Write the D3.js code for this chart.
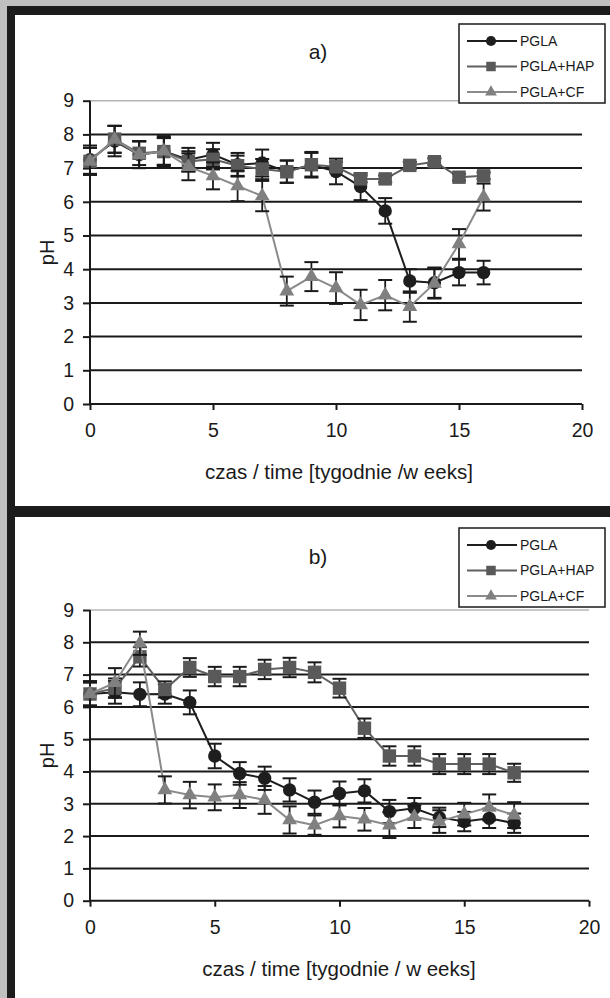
<!DOCTYPE html>
<html>
<head>
<meta charset="utf-8">
<script src="https://cdn.jsdelivr.net/npm/d3@7/dist/d3.min.js"></script>
<style>
  body { margin: 0; background: #c0c0c0; }
  svg { display: block; font-family: "Liberation Sans", Arial, sans-serif; }
</style>
</head>
<body>
<svg id="chart" width="610" height="998"></svg>
<script>
// series names + look
let seriesNames = ["PGLA", "PGLA+HAP", "PGLA+CF"];
let lineColors = ["#1e1e1e", "#606060", "#8a8a8a"];
let markFill = ["#1e1e1e", "#595959", "#808080"];
let markShape = [d3.symbolCircle, d3.symbolSquare, d3.symbolTriangle];

let yTicks = [0, 1, 2, 3, 4, 5, 6, 7, 8, 9];
let xTicks = [0, 5, 10, 15, 20];

// panel a)
let weeksA = [0, 1, 2, 3, 4, 5, 6, 7, 8, 9, 10, 11, 12, 13, 14, 15, 16];
let pglaA = [7.25, 7.8, 7.4, 7.5, 7.25, 7.4, 7.1, 7.15, 6.9, 7.1, 6.9, 6.45, 5.73, 3.65, 3.6, 3.9, 3.9];
let hapA = [7.2, 7.86, 7.44, 7.49, 7.2, 7.26, 7.07, 6.97, 6.89, 7.1, 7.04, 6.68, 6.68, 7.08, 7.19, 6.73, 6.77];
let cfA = [7.2, 7.85, 7.4, 7.5, 7.04, 6.77, 6.47, 6.17, 3.35, 3.78, 3.44, 2.94, 3.23, 2.89, 3.58, 4.75, 6.14];
let pglaErrA = [0.42, 0.45, 0.4, 0.45, 0.35, 0.35, 0.35, 0.4, 0.33, 0.38, 0.38, 0.4, 0.38, 0.35, 0.45, 0.38, 0.35];
let hapErrA = [0.4, 0.4, 0.35, 0.4, 0.3, 0.3, 0.3, 0.3, 0.33, 0.35, 0.15, 0.1, 0.1, 0.1, 0.1, 0.1, 0.1];
let cfErrA = [0.4, 0.4, 0.4, 0.4, 0.4, 0.4, 0.45, 0.45, 0.43, 0.43, 0.47, 0.45, 0.45, 0.45, 0.45, 0.44, 0.4];

// panel b)
let weeksB = [0, 1, 2, 3, 4, 5, 6, 7, 8, 9, 10, 11, 12, 13, 14, 15, 16, 17];
let pglaB = [6.4, 6.45, 6.39, 6.4, 6.14, 4.48, 3.94, 3.79, 3.43, 3.05, 3.32, 3.4, 2.76, 2.86, 2.58, 2.45, 2.55, 2.4];
let hapB = [6.4, 6.58, 7.55, 6.54, 7.22, 6.94, 6.94, 7.16, 7.22, 7.07, 6.58, 5.34, 4.48, 4.48, 4.23, 4.23, 4.23, 3.96];
let cfB = [6.4, 6.75, 7.97, 3.43, 3.27, 3.2, 3.27, 3.12, 2.5, 2.34, 2.62, 2.52, 2.34, 2.6, 2.45, 2.68, 2.89, 2.65];
let pglaErrB = [0.38, 0.35, 0.37, 0.3, 0.37, 0.38, 0.35, 0.36, 0.36, 0.36, 0.37, 0.36, 0.36, 0.32, 0.3, 0.3, 0.3, 0.3];
let hapErrB = [0.35, 0.3, 0.3, 0.25, 0.29, 0.3, 0.3, 0.3, 0.3, 0.31, 0.29, 0.3, 0.3, 0.3, 0.31, 0.31, 0.31, 0.28];
let cfErrB = [0.4, 0.45, 0.36, 0.42, 0.41, 0.4, 0.4, 0.43, 0.42, 0.3, 0.35, 0.35, 0.4, 0.35, 0.35, 0.35, 0.4, 0.4];


let svg = d3.select("#chart");

// gray page + dark frame + white panels
svg.append("rect").attr("width", 610).attr("height", 998).attr("fill", "#c0c0c0");
svg.append("rect").attr("x", 7).attr("y", 6).attr("width", 603).attr("height", 992).attr("fill", "#1c1c1c");
svg.append("rect").attr("x", 15).attr("y", 15).attr("width", 595).attr("height", 491).attr("fill", "#fff");
svg.append("rect").attr("x", 15).attr("y", 517).attr("width", 595).attr("height", 481).attr("fill", "#fff");


function drawPanel(p) {
  let g = svg.append("g");

  let x = d3.scaleLinear().domain([0, 20]).range([90, p.xEnd]);
  let y = d3.scaleLinear().domain([0, 9]).range([p.yZero, p.yTop]);

  // gridlines (top one is light)
  g.selectAll(".grid")
    .data(yTicks.filter(t => t > 0))
    .enter()
    .append("line")
    .attr("x1", x(0)).attr("x2", x(20))
    .attr("y1", d => y(d)).attr("y2", d => y(d))
    .attr("stroke", d => d === 9 ? "#b4b4b4" : "#1a1a1a")
    .attr("stroke-width", d => d === 9 ? 1.5 : 2);

  // axes
  let yAxis = d3.axisLeft(y).tickValues(yTicks).tickSize(7).tickPadding(9);
  let xAxis = d3.axisBottom(x).tickValues(xTicks).tickSize(6).tickPadding(13);

  let ya = g.append("g").attr("transform", "translate(" + x(0) + ",0)").call(yAxis);
  let xa = g.append("g").attr("transform", "translate(0," + y(0) + ")").call(xAxis);
  [ya, xa].forEach(a => {
    a.select(".domain").attr("stroke", "#1a1a1a").attr("stroke-width", 2);
    a.selectAll(".tick line").attr("stroke", "#1a1a1a").attr("stroke-width", 2);
    a.selectAll(".tick text").attr("fill", "#1a1a1a").style("font-size", "19.5px")
      .style("font-family", "Liberation Sans, Arial, sans-serif");
  });
  ya.select(".domain").attr("d", "M0," + y(0) + "V" + y(9));
  xa.select(".domain").attr("d", "M" + x(0) + ",0H" + x(20));

  // titles
  g.append("text").attr("x", 318).attr("y", p.titleY).attr("text-anchor", "middle")
    .style("font-size", "21px").attr("fill", "#1a1a1a").text(p.title);
  g.append("text").attr("x", 339).attr("y", y(0) + 75).attr("text-anchor", "middle")
    .style("font-size", "20.5px").attr("fill", "#1a1a1a").text(p.xLabel);
  g.append("text")
    .attr("transform", "translate(54," + ((y(0) + y(9)) / 2) + ") rotate(-90)")
    .attr("text-anchor", "middle")
    .style("font-size", "20px").attr("fill", "#1a1a1a").text("pH");

  // series: line, error bars, markers
  p.series.forEach((vals, s) => {
    let pts = p.weeks.map((w, i) => ({ w: w, v: vals[i], e: p.errs[s][i] }));
    let sg = g.append("g");

    sg.append("path")
      .datum(pts)
      .attr("fill", "none")
      .attr("stroke", lineColors[s])
      .attr("stroke-width", 2)
      .attr("d", d3.line().x(d => x(d.w)).y(d => y(d.v)));

    let eb = sg.selectAll(".err").data(pts).enter().append("g");
    eb.append("line")
      .attr("x1", d => x(d.w)).attr("x2", d => x(d.w))
      .attr("y1", d => y(d.v + d.e)).attr("y2", d => y(d.v - d.e))
      .attr("stroke", "#1a1a1a").attr("stroke-width", 1.8);
    eb.append("line")
      .attr("x1", d => x(d.w) - 7).attr("x2", d => x(d.w) + 7)
      .attr("y1", d => y(d.v + d.e)).attr("y2", d => y(d.v + d.e))
      .attr("stroke", "#1a1a1a").attr("stroke-width", 2);
    eb.append("line")
      .attr("x1", d => x(d.w) - 7).attr("x2", d => x(d.w) + 7)
      .attr("y1", d => y(d.v - d.e)).attr("y2", d => y(d.v - d.e))
      .attr("stroke", "#1a1a1a").attr("stroke-width", 2);

    let sym = d3.symbol().type(markShape[s]).size([140, 180, 95][s]);
    sg.selectAll(".mk").data(pts).enter().append("path")
      .attr("transform", d => "translate(" + x(d.w) + "," + y(d.v) + ")")
      .attr("d", sym)
      .attr("fill", markFill[s]);
  });

  // legend
  let lg = g.append("g");
  lg.append("rect")
    .attr("x", 459).attr("y", p.legendTop).attr("width", 146).attr("height", 79)
    .attr("fill", "#fff").attr("stroke", "#1a1a1a").attr("stroke-width", 1.5);
  seriesNames.forEach((name, s) => {
    let ry = p.legendTop + 17 + s * 25.5;
    lg.append("line").attr("x1", 467).attr("x2", 517).attr("y1", ry).attr("y2", ry)
      .attr("stroke", lineColors[s]).attr("stroke-width", 2);
    lg.append("path").attr("transform", "translate(491," + ry + ")")
      .attr("d", d3.symbol().type(markShape[s]).size([80, 90, 60][s]))
      .attr("fill", markFill[s]);
    lg.append("text").attr("x", 520).attr("y", ry).attr("dy", "0.35em")
      .style("font-size", "14px").attr("fill", "#1a1a1a").text(name);
  });
}

drawPanel({
  weeks: weeksA,
  series: [pglaA, hapA, cfA],
  errs: [pglaErrA, hapErrA, cfErrA],
  xEnd: 582, yZero: 404, yTop: 100.7,
  title: "a)", titleY: 59,
  xLabel: "czas / time [tygodnie /w eeks]",
  legendTop: 24
});

drawPanel({
  weeks: weeksB,
  series: [pglaB, hapB, cfB],
  errs: [pglaErrB, hapErrB, cfErrB],
  xEnd: 589, yZero: 900.7, yTop: 610,
  title: "b)", titleY: 564,
  xLabel: "czas / time [tygodnie / w eeks]",
  legendTop: 528
});
</script>
</body>
</html>
